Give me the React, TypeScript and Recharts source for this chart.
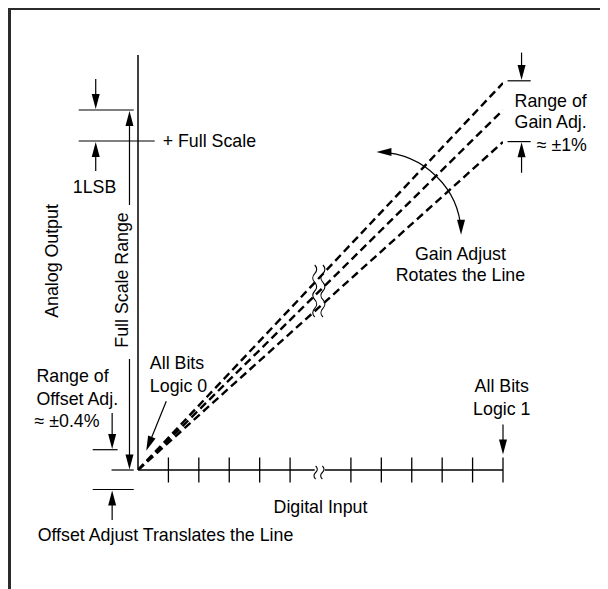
import React from 'react';
import { LineChart, Line, XAxis, YAxis, ReferenceLine, ReferenceDot } from 'recharts';

// digital input code (0 = all bits logic 0, 12 = all bits logic 1)
const inputCodes = [0, 12];
// analog output for the three gain settings (chart units)
const gainHigh = [0, 38.7];
const gainNominal = [0, 36.0];
const gainLow = [0, 32.8];
// code ticks on the input axis (6 is where the axis is broken)
const tickCodes = [1, 2, 3, 4, 5, 7, 8, 9, 10, 11, 12];

const data = inputCodes.map((x, i) => ({
  x,
  high: gainHigh[i],
  nominal: gainNominal[i],
  low: gainLow[i],
}));

type Seg = [number, number, number, number];

const axisSegments: Seg[] = [
  [0, 0, 0, 41.5],
  [0, 0, 5.81, 0],
  [6.14, 0, 12, 0],
];

const plainLines: Seg[] = [
  [-1.95, 36.0, -0.14, 36.0],
  [-1.95, 32.9, 0.55, 32.9],
  [-1.49, 2.03, -0.67, 2.03],
  [-0.87, 0, -0.14, 0],
  [-1.49, -1.95, -0.14, -1.95],
  [12.15, 38.92, 12.91, 38.92],
  [12.15, 32.84, 12.91, 32.84],
];

const arrows: Seg[] = [
  [-1.39, 39.1, -1.39, 36.1],
  [-1.39, 29.9, -1.39, 32.8],
  [-0.28, 26.5, -0.28, 35.9],
  [-0.28, 11.1, -0.28, 0.05],
  [-0.85, 5.7, -0.85, 2.1],
  [-0.85, -5.0, -0.85, -2.05],
  [0.93, 6.88, 0.27, 1.92],
  [12, 4.55, 12, 1.55],
  [12.61, 41.74, 12.61, 39.0],
  [12.61, 29.72, 12.61, 32.77],
];

const lineBreaks: Seg[] = [
  [5.81, 20.5, 5.81, 15.3],
  [6.08, 20.5, 6.08, 15.3],
];

const axisBreaks: Seg[] = [
  [5.84, 0.4, 5.84, -0.9],
  [6.06, 0.4, 6.06, -0.9],
];

const rotateArrow: Seg = [7.84, 31.79, 10.62, 23.52];

type Txt = { x: number; y: number; text: string; anchor: 'start' | 'middle'; rotate?: boolean };

const labels: Txt[] = [
  { x: 0.81, y: 32.9, text: '+ Full Scale', anchor: 'start' },
  { x: -1.43, y: 28.3, text: '1LSB', anchor: 'middle' },
  { x: -2.83, y: 20.9, text: 'Analog Output', anchor: 'middle', rotate: true },
  { x: -0.54, y: 19.0, text: 'Full Scale Range', anchor: 'middle', rotate: true },
  { x: -3.34, y: 9.43, text: 'Range of', anchor: 'start' },
  { x: -3.34, y: 7.1, text: 'Offset Adj.', anchor: 'start' },
  { x: -3.4, y: 4.93, text: '≈ ±0.4%', anchor: 'start' },
  { x: 0.39, y: 10.67, text: 'All Bits', anchor: 'start' },
  { x: 0.39, y: 8.38, text: 'Logic 0', anchor: 'start' },
  { x: 11.96, y: 8.38, text: 'All Bits', anchor: 'middle' },
  { x: 11.96, y: 6.13, text: 'Logic 1', anchor: 'middle' },
  { x: 6.0, y: -3.7, text: 'Digital Input', anchor: 'middle' },
  { x: -3.3, y: -6.53, text: 'Offset Adjust Translates the Line', anchor: 'start' },
  { x: 12.38, y: 36.93, text: 'Range of', anchor: 'start' },
  { x: 12.38, y: 34.8, text: 'Gain Adj.', anchor: 'start' },
  { x: 13.11, y: 32.54, text: '≈ ±1%', anchor: 'start' },
  { x: 10.6, y: 21.64, text: 'Gain Adjust', anchor: 'middle' },
  { x: 10.6, y: 19.46, text: 'Rotates the Line', anchor: 'middle' },
];

const FONT = '"Liberation Sans", Arial, sans-serif';

const plainShape = (w: number) => (p: any) => (
  <line x1={p.x1} y1={p.y1} x2={p.x2} y2={p.y2} stroke="#000" strokeWidth={w} />
);

const arrowShape = (p: any) => {
  const { x1, y1, x2, y2 } = p;
  const dx = x2 - x1;
  const dy = y2 - y1;
  const len = Math.hypot(dx, dy) || 1;
  const ux = dx / len;
  const uy = dy / len;
  const hl = 15;
  const hw = 4;
  const bx = x2 - ux * hl;
  const by = y2 - uy * hl;
  const pts = `${x2},${y2} ${bx - uy * hw},${by + ux * hw} ${bx + uy * hw},${by - ux * hw}`;
  return (
    <g>
      <line x1={x1} y1={y1} x2={bx + ux * 2} y2={by + uy * 2} stroke="#000" strokeWidth={1.2} />
      <polygon points={pts} fill="#000" />
    </g>
  );
};

const wavyShape = (waves: number, amp: number) => (p: any) => {
  const { x1, y1, y2 } = p;
  const n = waves * 2;
  const seg = (y2 - y1) / n;
  let d = `M ${x1} ${y1}`;
  for (let i = 0; i < n; i++) {
    const ya = y1 + seg * i;
    const s = i % 2 === 0 ? 1 : -1;
    d += ` C ${x1 + s * amp} ${ya + seg * 0.3}, ${x1 + s * amp} ${ya + seg * 0.7}, ${x1} ${ya + seg}`;
  }
  return <path d={d} fill="none" stroke="#000" strokeWidth={1.1} />;
};

const curvedArrowShape = (p: any) => {
  const { x1, y1, x2, y2 } = p;
  const rx = x2 - x1;
  const ry = y2 - y1;
  const hl = 15;
  const hw = 4;
  return (
    <g>
      <path d={`M ${x1 + 4} ${y1} A ${rx} ${ry} 0 0 1 ${x2} ${y2 - 4}`} fill="none" stroke="#000" strokeWidth={1.2} />
      <polygon points={`${x1},${y1} ${x1 + hl},${y1 - hw} ${x1 + hl},${y1 + hw}`} fill="#000" />
      <polygon points={`${x2},${y2} ${x2 - hw},${y2 - hl} ${x2 + hw},${y2 - hl}`} fill="#000" />
    </g>
  );
};

const seg = (s: Seg, key: string, shape: any) => (
  <ReferenceLine
    key={key}
    segment={[{ x: s[0], y: s[1] }, { x: s[2], y: s[3] }]}
    ifOverflow="visible"
    shape={shape}
  />
);

const textShape = (t: Txt) => (p: any) => (
  <text
    x={p.cx}
    y={p.cy}
    textAnchor={t.anchor}
    dominantBaseline="central"
    fontFamily={FONT}
    fontSize={17.8}
    fill="#000"
    transform={t.rotate ? `rotate(-90 ${p.cx} ${p.cy})` : undefined}
  >
    {t.text}
  </text>
);

export default function App() {
  return (
    <div style={{ position: 'relative', width: 592, height: 581 }}>
      <div
        style={{
          position: 'absolute',
          left: 0,
          top: -1,
          width: 595,
          height: 590,
          boxSizing: 'border-box',
          borderLeft: '3px solid #2b2b2b',
          borderTop: '3px solid #2b2b2b',
          borderRight: '3px solid #2b2b2b',
          pointerEvents: 'none',
        }}
      />
      <LineChart width={592} height={581} data={data} margin={{ top: 47, right: 97, bottom: 119, left: 130 }}>
        <XAxis type="number" dataKey="x" domain={[0, 12]} hide allowDataOverflow />
        <YAxis type="number" domain={[0, 41.5]} hide width={0} allowDataOverflow />
        {axisSegments.map((s, i) => seg(s, `ax${i}`, plainShape(1.5)))}
        {tickCodes.map((t) => seg([t, -1.25, t, 1.25], `tk${t}`, plainShape(1.3)))}
        {axisBreaks.map((s, i) => seg(s, `ab${i}`, wavyShape(1, 2.2)))}
        <Line type="linear" dataKey="high" stroke="#000" strokeWidth={2.4} strokeDasharray="8 4.5" dot={false} activeDot={false} isAnimationActive={false} />
        <Line type="linear" dataKey="nominal" stroke="#000" strokeWidth={2.4} strokeDasharray="8 4.5" dot={false} activeDot={false} isAnimationActive={false} />
        <Line type="linear" dataKey="low" stroke="#000" strokeWidth={2.4} strokeDasharray="8 4.5" dot={false} activeDot={false} isAnimationActive={false} />
        {lineBreaks.map((s, i) => seg(s, `lb${i}`, wavyShape(3, 2.6)))}
        {plainLines.map((s, i) => seg(s, `pl${i}`, plainShape(1.2)))}
        {arrows.map((s, i) => seg(s, `ar${i}`, arrowShape))}
        {seg(rotateArrow, 'rot', curvedArrowShape)}
        {labels.map((t, i) => (
          <ReferenceDot key={`lbl${i}`} x={t.x} y={t.y} r={0} ifOverflow="visible" shape={textShape(t)} />
        ))}
      </LineChart>
    </div>
  );
}
